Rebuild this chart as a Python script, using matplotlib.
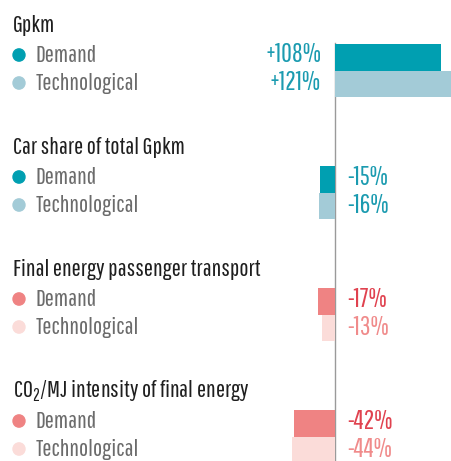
import matplotlib.pyplot as plt
from matplotlib.patches import Circle

# data
panels = ["Gpkm", "Car share of total Gpkm",
          "Final energy passenger transport",
          "CO$_2$/MJ intensity of final energy"]
scenarios = ["Demand", "Technological"]
demand = [108, -15, -17, -42]
technological = [121, -16, -13, -44]

# colours per panel (demand, technological)
bar_colors = [("#009fb1", "#a3cbd7"), ("#009fb1", "#a3cbd7"),
              ("#ef8383", "#fbdcd9"), ("#ef8383", "#fbdcd9")]
label_colors = [("#1b9bb0", "#1b9bb0"), ("#1b9bb0", "#1b9bb0"),
                ("#e0424f", "#f08b8b"), ("#e0424f", "#f08b8b")]

W, H = 451, 461
scale = 0.98          # px per percent
x0 = 335              # zero line in px
panel_step = 122
bar_h = 26.7
fs = 17.5
fs_num = 19

plt.rcParams['font.family'] = ['Pathway Gothic One', 'DejaVu Sans']
plt.rcParams['mathtext.fontset'] = 'custom'
plt.rcParams['mathtext.rm'] = 'Pathway Gothic One'

fig = plt.figure(figsize=(W / 100, H / 100), dpi=100)
ax = fig.add_axes([0, 0, 1, 1])
ax.set_xlim(-x0 / scale, (W - x0) / scale)
ax.set_ylim(H, 0)
ax.axis("off")

# pixel helper for non-data positions
px = lambda p: (p - x0) / scale

ax.plot([0, 0], [43, H], color="#9a9a9a", lw=1.0, zorder=1)

for k, title in enumerate(panels):
    off = k * panel_step
    ax.text(px(13), 25 + off, title, fontsize=fs, color="#1e1e1e",
            va="center", ha="left")
    vals = [demand[k], technological[k]]
    for j, name in enumerate(scenarios):
        yb = 44 + off + j * bar_h
        ax.barh(yb + bar_h / 2, vals[j], height=bar_h, left=0,
                color=bar_colors[k][j], zorder=2, linewidth=0)
        yt = 55 + off + j * 28
        ax.add_patch(Circle((px(19), yt), 6 / scale,
                            color=bar_colors[k][j], transform=ax.transData,
                            zorder=3))
        ax.text(px(36), yt, name, fontsize=fs, color="#6b6b6b",
                va="center", ha="left")
        v = vals[j]
        lab = f"+{v}%" if v > 0 else f"-{abs(v)}%"
        if v > 0:
            ax.text(px(321), yt, lab, fontsize=fs_num, color=label_colors[k][j],
                    va="center", ha="right")
        else:
            ax.text(px(347), yt, lab, fontsize=fs_num, color=label_colors[k][j],
                    va="center", ha="left")

fig.savefig("out.png", dpi=100)
